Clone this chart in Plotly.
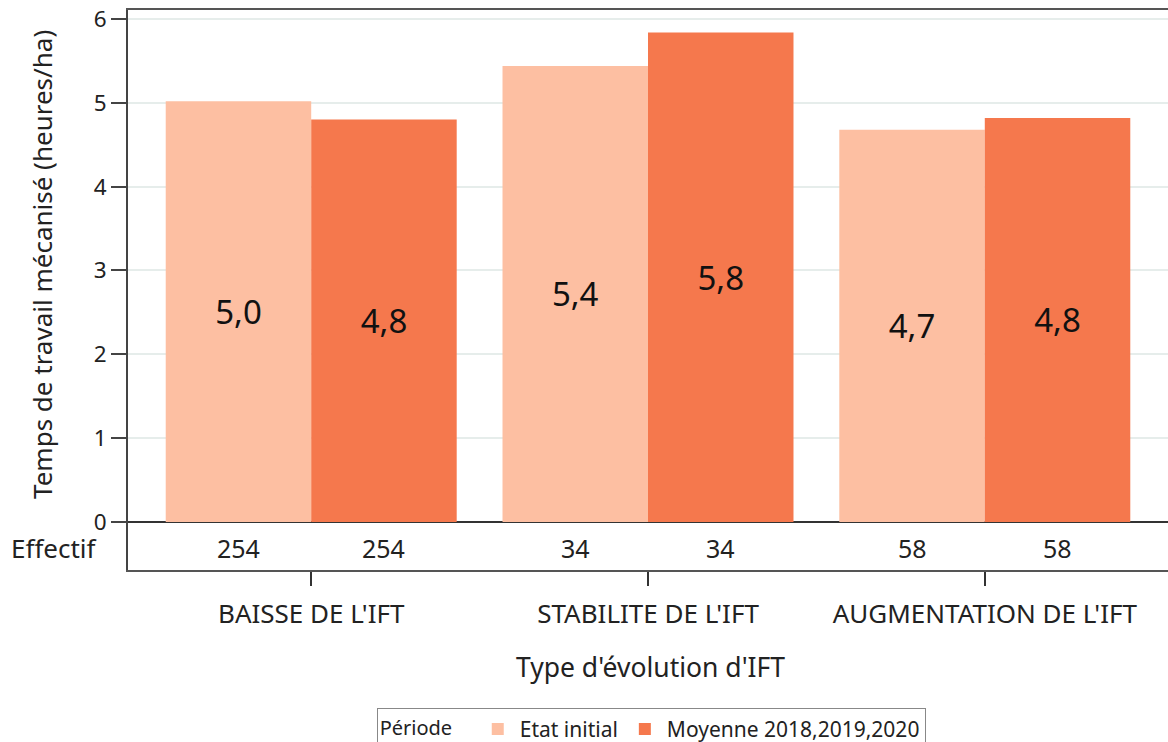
import plotly.graph_objects as go

# Données
categories = ["BAISSE DE L'IFT", "STABILITE DE L'IFT", "AUGMENTATION DE L'IFT"]
etat_initial = [5.02, 5.44, 4.68]
moyenne_2018_2020 = [4.80, 5.84, 4.82]
effectif_initial = [254, 34, 58]
effectif_moyenne = [254, 34, 58]

couleur_clair = '#FDBFA2'
couleur_fonce = '#F5784D'
police = 'Noto Sans'
texte = '#222222'

fig = go.Figure()

fig.add_trace(go.Bar(
    x=categories, y=etat_initial, name='Etat initial',
    marker=dict(color=couleur_clair, line=dict(width=0)),
    texttemplate='%{y:.1f}', textposition='inside', insidetextanchor='middle',
    textangle=0, textfont=dict(size=33, color='#111111', family=police),
    hoverinfo='skip'
))
fig.add_trace(go.Bar(
    x=categories, y=moyenne_2018_2020, name='Moyenne 2018,2019,2020',
    marker=dict(color=couleur_fonce, line=dict(width=0)),
    texttemplate='%{y:.1f}', textposition='inside', insidetextanchor='middle',
    textangle=0, textfont=dict(size=33, color='#111111', family=police),
    hoverinfo='skip'
))

# Ligne "Effectif" sous l'axe
decalage = (1 - 0.136) / 4
for i in range(len(categories)):
    for dx, n in ((-decalage, effectif_initial[i]), (decalage, effectif_moyenne[i])):
        fig.add_annotation(x=i + dx, y=-0.31, xref='x', yref='y', text=str(n),
                           showarrow=False, font=dict(size=25, color=texte, family=police))

fig.add_annotation(x=-0.027, y=-0.31, xref='paper', yref='y', text='Effectif',
                   xanchor='right', showarrow=False,
                   font=dict(size=26, color=texte, family=police))

# Titres des axes
fig.add_annotation(x=-0.082, y=0.546, xref='paper', yref='paper',
                   xanchor='center', yanchor='middle',
                   text='Temps de travail mécanisé (heures/ha)', textangle=-90,
                   showarrow=False, font=dict(size=26, color=texte, family=police))
fig.add_annotation(x=0.502, y=-0.173, xref='paper', yref='paper',
                   xanchor='center', yanchor='middle',
                   text="Type d'évolution d'IFT",
                   showarrow=False, font=dict(size=26.5, color=texte, family=police))

fig.update_layout(
    width=1168, height=742,
    margin=dict(l=128, r=0, t=10, b=172, autoexpand=False),
    paper_bgcolor='white', plot_bgcolor='white',
    barmode='group', bargap=0.136, bargroupgap=0,
    separators=', ',
    font=dict(family=police, size=17, color=texte),
    showlegend=True,
    legend=dict(
        orientation='h', xref='container', yref='container',
        x=0.5575, y=0.046, xanchor='center', yanchor='top',
        title=dict(text='Période   ', font=dict(size=20, color=texte)),
        font=dict(size=21, color=texte),
        bordercolor='#888888', borderwidth=1, bgcolor='white',
        itemwidth=34
    ),
    xaxis=dict(
        range=[-0.544, 2.544], showgrid=False, automargin=False,
        showline=True, linecolor='#555555', linewidth=2, mirror=True,
        ticks='outside', ticklen=14, tickcolor='#333333', tickwidth=1.5,
        ticklabelstandoff=6,
        tickfont=dict(size=26, color=texte)
    ),
    yaxis=dict(
        range=[-0.573, 6.107], tickvals=[0, 1, 2, 3, 4, 5, 6], automargin=False,
        showgrid=True, gridcolor='#E6EDEB', gridwidth=1.5,
        zeroline=True, zerolinecolor='#333333', zerolinewidth=1.5,
        showline=True, linecolor='#444444', linewidth=2,
        ticks='outside', ticklen=15, tickcolor='#444444', tickwidth=1.5,
        ticklabeloverflow='allow',
        tickfont=dict(size=22.5, color=texte)
    )
)

# marge par défaut du navigateur retirée pour que la figure occupe toute la fenêtre
fig.write_html('out.html', config={'displayModeBar': False},
               post_script="document.body.style.margin='0';")
